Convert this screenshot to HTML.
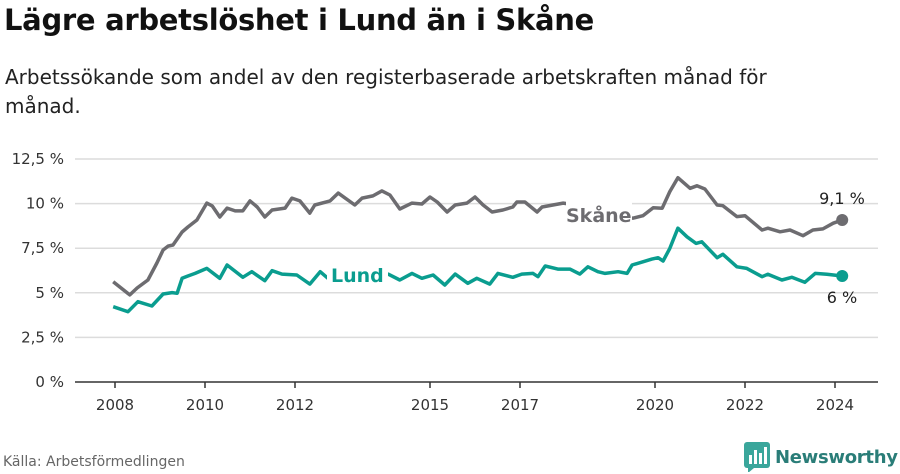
<!DOCTYPE html>
<html><head><meta charset="utf-8"><style>
body{margin:0;width:900px;height:474px;background:#fff;font-family:"DejaVu Sans","Liberation Sans",sans-serif;overflow:hidden;position:relative}
h1{position:absolute;left:4px;top:3px;margin:0;font-size:29px;font-weight:bold;color:#111;letter-spacing:-0.3px}
p.sub{position:absolute;left:5px;top:63px;margin:0;width:830px;font-size:20px;line-height:29px;color:#222}
.src{position:absolute;left:3px;top:454px;font-size:14px;color:#666}
.logo{position:absolute;left:744px;top:442px;display:flex;align-items:center}
.logo span{font-size:18px;font-weight:bold;color:#2a7d78;margin-left:5px;letter-spacing:-0.3px}
</style></head><body>
<h1>Lägre arbetslöshet i Lund än i Skåne</h1>
<p class="sub">Arbetssökande som andel av den registerbaserade arbetskraften månad för månad.</p>
<svg id="chart" width="900" height="474" style="position:absolute;left:0;top:0"></svg>
<div class="src">Källa: Arbetsförmedlingen</div>
<div class="logo">
<svg width="26" height="30"><rect x="0" y="0" width="26" height="26" rx="3" fill="#3aa69b"/><polygon points="4,26 10,26 4,31" fill="#3aa69b"/><rect x="5" y="13" width="3" height="9" fill="#fff"/><rect x="10" y="8" width="3" height="14" fill="#fff"/><rect x="15" y="11" width="3" height="11" fill="#fff"/><rect x="20" y="5" width="3" height="17" fill="#fff"/></svg>
<span>Newsworthy</span></div>
<script>
const yTicks=[0,2.5,5,7.5,10,12.5];
const yTickLabels=["0 %","2,5 %","5 %","7,5 %","10 %","12,5 %"];
const xTicks=[2008,2010,2012,2015,2017,2020,2022,2024];
const skaneDates=[2007.96,2008.33,2008.49,2008.73,2008.93,2009.07,2009.18,2009.29,2009.49,2009.62,2009.82,2010.04,2010.16,2010.33,2010.49,2010.67,2010.84,2011.0,2011.16,2011.33,2011.49,2011.78,2011.93,2012.11,2012.33,2012.44,2012.78,2012.96,2013.33,2013.49,2013.73,2013.93,2014.11,2014.33,2014.6,2014.82,2015.0,2015.16,2015.38,2015.56,2015.82,2016.0,2016.18,2016.38,2016.62,2016.84,2016.93,2017.11,2017.38,2017.49,2017.73,2017.96,2018.3,2018.8,2019.2,2019.51,2019.73,2019.96,2020.16,2020.33,2020.51,2020.78,2020.93,2021.11,2021.38,2021.51,2021.82,2022.0,2022.38,2022.51,2022.78,2023.0,2023.29,2023.51,2023.73,2023.96,2024.16];
const skaneValues=[5.62,4.88,5.27,5.72,6.67,7.40,7.62,7.68,8.41,8.69,9.08,10.03,9.87,9.25,9.75,9.59,9.59,10.15,9.81,9.25,9.64,9.75,10.31,10.15,9.47,9.92,10.15,10.59,9.92,10.31,10.43,10.71,10.48,9.70,10.03,9.98,10.37,10.09,9.53,9.92,10.03,10.37,9.92,9.53,9.64,9.81,10.09,10.09,9.53,9.81,9.92,10.03,9.9,9.6,9.3,9.18,9.32,9.77,9.74,10.67,11.45,10.86,11.0,10.82,9.92,9.88,9.27,9.32,8.52,8.62,8.42,8.52,8.2,8.52,8.58,8.9,9.08];
const lundDates=[2007.96,2008.29,2008.51,2008.82,2009.07,2009.27,2009.38,2009.49,2009.62,2009.78,2010.04,2010.33,2010.49,2010.84,2011.04,2011.33,2011.49,2011.71,2012.04,2012.33,2012.56,2012.73,2013.2,2013.7,2014.07,2014.33,2014.6,2014.82,2015.07,2015.33,2015.56,2015.84,2016.04,2016.33,2016.51,2016.84,2017.04,2017.29,2017.4,2017.56,2017.84,2018.11,2018.33,2018.51,2018.73,2018.89,2019.18,2019.38,2019.49,2019.73,2019.93,2020.07,2020.18,2020.33,2020.51,2020.71,2020.91,2021.04,2021.38,2021.51,2021.82,2022.04,2022.38,2022.51,2022.82,2023.04,2023.33,2023.56,2023.82,2024.16];
const lundValues=[4.22,3.94,4.50,4.26,4.93,5.01,4.97,5.81,5.94,6.09,6.37,5.81,6.56,5.87,6.18,5.68,6.24,6.05,6.0,5.49,6.18,5.81,5.9,5.9,6.05,5.72,6.09,5.81,6.0,5.44,6.05,5.53,5.81,5.49,6.09,5.87,6.05,6.09,5.9,6.5,6.33,6.33,6.05,6.46,6.18,6.09,6.18,6.09,6.56,6.74,6.89,6.97,6.78,7.49,8.62,8.14,7.77,7.86,6.97,7.16,6.46,6.37,5.9,6.04,5.72,5.87,5.59,6.09,6.04,5.94];
const NS="http://www.w3.org/2000/svg";
const svg=document.getElementById('chart');
const X=d=>115+(d-2008)*45;
const Y=v=>382-v*17.84;
function mk(tag,attrs,text){const e=document.createElementNS(NS,tag);for(const k in attrs)e.setAttribute(k,attrs[k]);if(text!==undefined)e.textContent=text;svg.appendChild(e);return e;}
yTicks.forEach((t,i)=>{
  if(t>0){const g=mk('line',{x1:75,x2:878,y1:Y(t),y2:Y(t),stroke:'#dcdcdc','stroke-width':1.5});
  
  }
  const l=mk('text',{x:64,y:Y(t)+5,'text-anchor':'end','font-size':15,fill:'#333'},yTickLabels[i]);
  
  
});
const ax=mk('line',{x1:75,x2:878,y1:382,y2:382,stroke:'#333','stroke-width':1.5});


xTicks.forEach(t=>{
  const tk=mk('line',{x1:X(t),x2:X(t),y1:382,y2:388,stroke:'#333','stroke-width':1.5});
  
  
  const l=mk('text',{x:X(t),y:410,'text-anchor':'middle','font-size':15,fill:'#333'},String(t));
  
  
});
function line(dates,vals,color,name){
  const d=dates.map((t,i)=>(i?'L':'M')+X(t).toFixed(1)+','+Y(vals[i]).toFixed(1)).join('');
  const p=mk('path',{d:d,fill:'none',stroke:color,'stroke-width':3.5,'stroke-linejoin':'round'});
  
  
  const n=dates.length-1;
  const c=mk('circle',{cx:X(dates[n]),cy:Y(vals[n]),r:6,fill:color});
  
  
}
line(skaneDates,skaneValues,'#6d6c70','skane-line');
line(lundDates,lundValues,'#0a9d8f','lund-line');
const m1=mk('rect',{x:566,y:194,width:66,height:34,fill:'#fff'});


const m2=mk('rect',{x:327,y:258,width:61,height:34,fill:'#fff'});


const s=mk('text',{x:566,y:222,'font-size':19,'font-weight':'bold',fill:'#6d6c70'},'Skåne');


const lu=mk('text',{x:331,y:282,'font-size':19,'font-weight':'bold',fill:'#0a9d8f'},'Lund');


const sv=mk('text',{x:842,y:204,'text-anchor':'middle','font-size':16,fill:'#222'},(skaneValues[skaneValues.length-1]).toFixed(1).replace('.',',')+' %');


const lv=mk('text',{x:842,y:303,'text-anchor':'middle','font-size':16,fill:'#222'},Math.round(lundValues[lundValues.length-1])+' %');


</script>
</body></html>
